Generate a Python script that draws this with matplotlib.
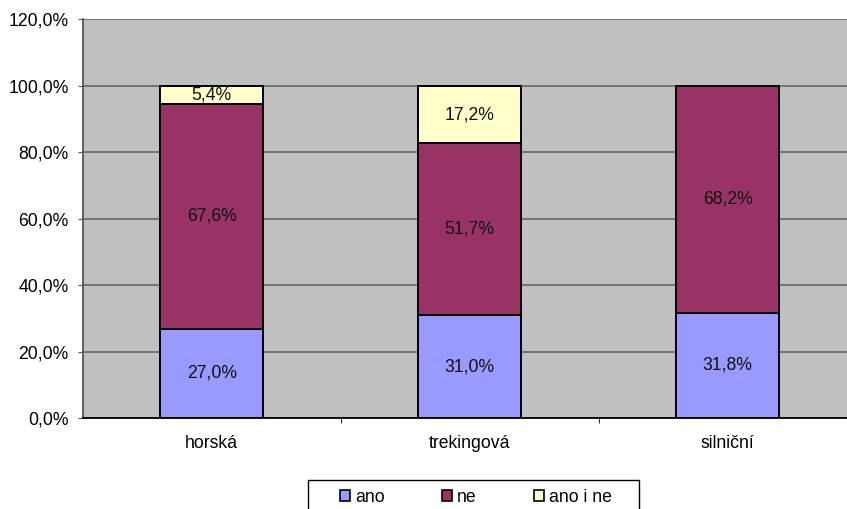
import matplotlib
matplotlib.use("Agg")
from matplotlib import pyplot as plt
from matplotlib.patches import Patch, Rectangle
from matplotlib.ticker import FuncFormatter

plt.rcParams['font.family'] = ['Liberation Sans', 'DejaVu Sans']

# data
categories = ['horská', 'trekingová', 'silniční']
ano = [27.0, 31.0, 31.8]
ne = [67.6, 51.7, 68.2]
ano_i_ne = [5.4, 17.2, 0.0]
series_names = ['ano', 'ne', 'ano i ne']
colors = ['#9999FF', '#993366', '#FFFFCC']

fs = 12.7
W, H = 847, 509

fig = plt.figure(figsize=(8.47, 5.09), dpi=100)
# plot area runs a bit past the right edge, like the original
ax = fig.add_axes([82.7 / W, 1 - 418.3 / H, 774 / W, 399 / H])
ax.set_facecolor('#C0C0C0')

x = range(len(categories))
bottoms = [0.0] * len(categories)
for vals, c in zip([ano, ne, ano_i_ne], colors):
    ax.bar(x, vals, width=0.40, bottom=bottoms, color=c, edgecolor='black',
           linewidth=1.4, zorder=3)
    for i, v in enumerate(vals):
        if v > 0:
            ax.text(i, bottoms[i] + v / 2, ('%.1f%%' % v).replace('.', ','),
                    ha='center', va='center', fontsize=fs, color='#111111', zorder=4)
    bottoms = [b + v for b, v in zip(bottoms, vals)]

ax.set_ylim(0, 120)
ax.set_xlim(-0.5, 2.5)
ax.set_yticks(range(0, 121, 20))
ax.yaxis.set_major_formatter(FuncFormatter(lambda v, p: ('%.1f%%' % v).replace('.', ',')))
ax.yaxis.grid(True, color='#6e6e6e', linewidth=1.3, zorder=0)
ax.set_axisbelow(True)

ax.set_xticks(list(x))
ax.set_xticklabels(categories)
ax.set_xticks([0.5, 1.5], minor=True)
ax.tick_params(axis='x', which='major', length=0, pad=12, labelsize=fs)
ax.tick_params(axis='x', which='minor', length=3.6, direction='out')
ax.tick_params(axis='y', length=3.6, pad=6.5, labelsize=fs, color='#555555')

for s in ['top', 'right']:
    ax.spines[s].set_visible(False)
ax.spines['left'].set_color('#555555')
ax.spines['left'].set_linewidth(1.3)
ax.spines['bottom'].set_color('black')
ax.spines['bottom'].set_linewidth(1.3)

handles = [Patch(facecolor=c, edgecolor='black', linewidth=1.2, label=n)
           for c, n in zip(colors, series_names)]
leg = fig.legend(handles=handles, loc='center left', bbox_to_anchor=(340 / W, 1 - 497 / H),
                 ncol=3, frameon=False, fontsize=fs, handlelength=0.55, handleheight=0.55,
                 columnspacing=3.25, handletextpad=0.3, borderpad=0, borderaxespad=0)

# legend box, cut by the bottom edge as in the original
fig.patches.append(Rectangle((308 / W, -0.05), (639 - 308) / W, 0.05 + 1 - 480 / H,
                             transform=fig.transFigure, fill=False,
                             edgecolor='black', linewidth=1))

fig.savefig('out.png', dpi=100)
